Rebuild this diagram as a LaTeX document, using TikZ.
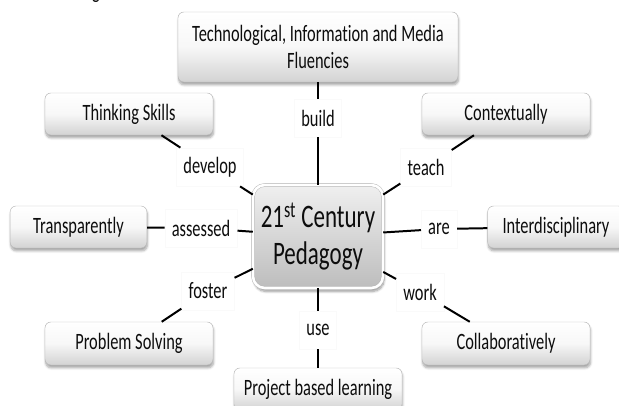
\documentclass[tikz,border=0pt]{standalone}
\usepackage{fontspec}
\setmainfont{Carlito}[FakeStretch=0.7, Ligatures=NoCommon]
\usetikzlibrary{positioning, shadows.blur}

\begin{document}
\begin{tikzpicture}[
  every node/.style={align=center, text=black!95, font=\fontsize{20}{23}\selectfont},
  concept/.style={draw=gray!55, rounded corners=5pt, top color=white, bottom color=gray!35, middle color=gray!6,
    minimum width=5.04cm, minimum height=1.26cm,
    blur shadow={shadow xshift=0.5pt, shadow yshift=-2.5pt, shadow opacity=35, shadow blur steps=6}},
  side/.style={concept, minimum width=4.1cm},
  core/.style={draw=gray!60, double=white, double distance=2.2pt, rounded corners=10pt,
    top color=gray!12, bottom color=gray!52, minimum width=3.9cm, minimum height=3.09cm,
    font=\fontsize{28}{31.5}\selectfont,
    blur shadow={shadow xshift=1pt, shadow yshift=-3pt, shadow opacity=40, shadow blur steps=8}},
  link/.style={draw=gray!4, fill=white, inner xsep=6pt, minimum height=1.15cm},
  connector/.style={line width=1.7pt, black}
]
\useasboundingbox (0,0) rectangle (18.57,-12.15);

% cut caption above
\node[anchor=base] (heading) at (2.88,0.04) {g};

% Concepts
\node[concept, minimum width=8.4cm, minimum height=2.1cm] (fluency) at (9.54,-1.41) {Technological, Information and Media\\Fluencies};
\node[concept] (thinking) at (3.87,-3.42) {Thinking Skills};
\node[concept] (context) at (15.18,-3.42) {Contextually};
\node[side] (transparent) at (2.355,-6.81) {Transparently};
\node[side] (interdisc) at (16.68,-6.81) {Interdisciplinary};
\node[concept, minimum height=1.29cm] (problem) at (3.87,-10.305) {Problem Solving};
\node[concept, minimum height=1.29cm] (collab) at (15.18,-10.305) {Collaboratively};
\node[concept] (project) at (9.54,-11.67) {Project based learning};

% Centre
\node[core] (pedagogy) at (9.54,-7.095) {21\textsuperscript{st} Century\\Pedagogy};

% Linking words
\node[link] (build) at (9.54,-3.54) {build};
\node[link] (develop) at (6.3,-5.01) {develop};
\node[link] (teach) at (12.78,-5.01) {teach};
\node[link] (assessed) at (6.03,-6.84) {assessed};
\node[link] (are) at (13.17,-6.87) {are};
\node[link] (foster) at (6.24,-8.73) {foster};
\node[link] (work) at (12.6,-8.76) {work};
\node[link] (use) at (9.54,-9.9) {use};

% Connectors
\draw[connector] (fluency) -- (build) -- (pedagogy);
\draw[connector] (thinking) -- (develop) -- (pedagogy);
\draw[connector] (context) -- (teach) -- (pedagogy);
\draw[connector] (transparent) -- (assessed) -- (pedagogy);
\draw[connector] (interdisc) -- (are) -- (pedagogy);
\draw[connector] (problem) -- (foster) -- (pedagogy);
\draw[connector] (collab) -- (work) -- (pedagogy);
\draw[connector] (project) -- (use) -- (pedagogy);

\end{tikzpicture}
\end{document}
